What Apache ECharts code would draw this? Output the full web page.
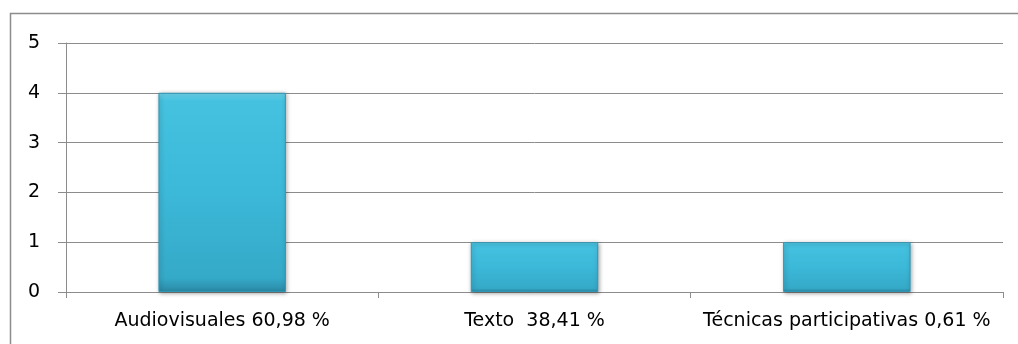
<!DOCTYPE html>
<html><head><meta charset="utf-8">
<script src="https://cdn.jsdelivr.net/npm/echarts@6/dist/echarts.min.js"></script>
<style>html,body{margin:0;padding:0;background:#fff}#c{width:1018px;height:344px}</style>
</head><body><div id="c"></div>
<script>
const categories = ['Audiovisuales 60,98 %', 'Texto  38,41 %', 'Técnicas participativas 0,61 %'];
const values = [4, 1, 1];
const yTicks = [0, 1, 2, 3, 4, 5];

const chart = echarts.init(document.getElementById('c'), null, {renderer: 'canvas'});
const font = '"DejaVu Sans", sans-serif';
chart.setOption({
  animation: false,
  backgroundColor: '#ffffff',
  graphic: [{
    type: 'rect', silent: true, z: 0,
    shape: {x: 10.5, y: 13.5, width: 1100, height: 400},
    style: {fill: 'none', stroke: '#8c8c8c', lineWidth: 1.5}
  }],
  grid: {left: 66, right: 15, top: 43, bottom: 52, containLabel: false},
  xAxis: {
    type: 'category', data: categories,
    boundaryGap: true,
    axisLine: {show: true, lineStyle: {color: '#8c8c8c', width: 1}},
    axisTick: {show: true, length: 6, interval: 0, alignWithLabel: false, lineStyle: {color: '#8c8c8c'}},
    axisLabel: {color: '#000', fontFamily: font, fontSize: 19, margin: 20, interval: 0, hideOverlap: false}
  },
  yAxis: {
    type: 'value', min: yTicks[0], max: yTicks[yTicks.length - 1], interval: 1,
    axisLine: {show: true, lineStyle: {color: '#8c8c8c', width: 1}},
    axisTick: {show: true, length: 8, inside: false, lineStyle: {color: '#8c8c8c'}},
    splitLine: {show: true, lineStyle: {color: '#8c8c8c', width: 1}},
    axisLabel: {color: '#000', fontFamily: font, fontSize: 19, margin: 26,
      formatter: v => yTicks.includes(v) ? String(v) : ''}
  },
  series: [{
    type: 'bar', data: values, barWidth: '40.8%',
    itemStyle: {
      color: new echarts.graphic.LinearGradient(0, 0, 0, 1, [
        {offset: 0, color: '#6fd6ee'},
        {offset: 0.04, color: '#45c2e0'},
        {offset: 0.5, color: '#3cb8d8'},
        {offset: 0.93, color: '#35a9c8'},
        {offset: 1, color: '#2a8aa6'}
      ]),
      borderColor: '#2f97b4', borderWidth: 1,
      shadowColor: 'rgba(0,0,0,0.35)', shadowBlur: 4, shadowOffsetX: 1, shadowOffsetY: 1
    }
  }]
});
</script></body></html>
